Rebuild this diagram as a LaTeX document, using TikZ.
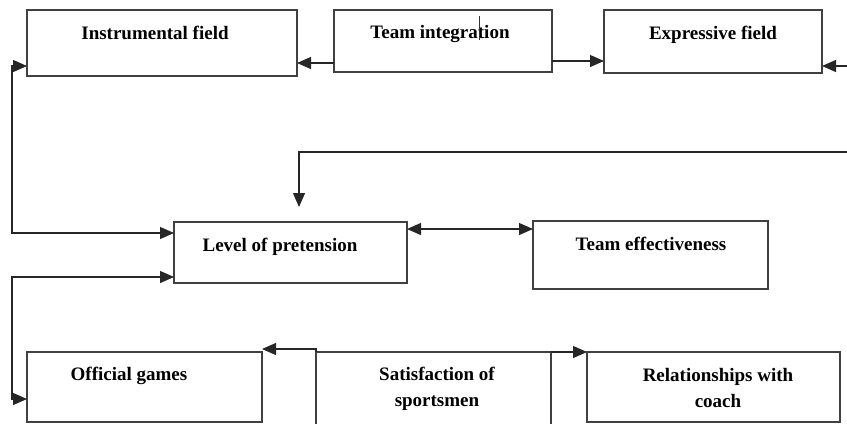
\documentclass[tikz,border=0pt]{standalone}
\usepackage{fontspec}
\setmainfont{Liberation Serif}
\usetikzlibrary{arrows.meta}
\begin{document}
\begin{tikzpicture}[x=1pt,y=-1pt,
  boxnode/.style={draw=black!75,line width=1.5pt,inner sep=0pt,outer sep=0pt,fill=none},
  lbl/.style={inner sep=0pt,font=\bfseries\fontsize{19}{26}\selectfont,align=center,anchor=base},
  tipA/.tip={Triangle[length=14pt,width=12pt]},
  conn/.style={draw=black!85,line width=1.2pt},
  arr/.style={conn,-tipA},
  darr/.style={conn,tipA-tipA}]
\useasboundingbox (0,0) rectangle (847,424);
% boxes
\node[boxnode,minimum width=270pt,minimum height=66pt] (inst) at (162,43) {};
\node[boxnode,minimum width=218pt,minimum height=62pt] (integ) at (443,41) {};
\node[boxnode,minimum width=218pt,minimum height=63pt] (expr) at (713,41.5) {};
\node[boxnode,minimum width=233pt,minimum height=61pt] (lp) at (290.5,252.5) {};
\node[boxnode,minimum width=235pt,minimum height=68pt] (te) at (650.5,255) {};
\node[boxnode,minimum width=235pt,minimum height=70pt] (off) at (144.5,387) {};
\node[inner sep=0pt,outer sep=0pt,minimum width=235pt,minimum height=72pt] (sat) at (433.5,388) {};
\draw[draw=black!75,line width=1.5pt] (sat.south west) -- (sat.north west) -- (sat.north east) -- (sat.south east);
\node[boxnode,minimum width=253pt,minimum height=70pt] (rel) at (713.5,387) {};
% labels
\node[lbl] (instT) at (155,39) {Instrumental field};
\node[lbl] (integT) at (440,38) {Team integration};
\node[lbl] (exprT) at (713,39) {Expressive field};
\node[lbl] (lpT) at (280,251) {Level of pretension};
\node[lbl] (teT) at (651,250) {Team effectiveness};
\node[lbl] (offT) at (129,380) {Official games};
\node[lbl] (satT) at (437,406) {Satisfaction of\\sportsmen};
\node[lbl] (relT) at (718,407) {Relationships with\\coach};
% stray tick mark
\coordinate (tickA) at (479,16);
\coordinate (tickB) at (479,40);
\draw[black!80,line width=0.8pt] (tickA) -- (tickB);
% free ends
\coordinate (rA) at (847,66);
\coordinate (rB) at (847,152);
\coordinate (bend) at (299,152);
\coordinate (lpTip) at (299,207);
% connectors
\draw[arr] (integ.west |- 0,63) -- (inst.east |- 0,63);
\draw[arr] (integ.east |- 0,61) -- (expr.west |- 0,61);
\draw[arr] (rA) -- (expr.east |- rA);
\draw[arr] (rB) -- (bend) -- (lpTip);
\draw[darr] (inst.west |- 0,66) -- (12,66) -- (12,233) -- (lp.west |- 0,233);
\draw[darr] (lp.west |- 0,277) -- (12,277) -- (12,399) -- (off.west |- 0,399);
\draw[darr] (lp.east |- 0,229) -- (te.west |- 0,229);
\draw[arr] (sat.north west) -- ++(0,-3) -- (off.north east |- 0,349);
\draw[arr] (sat.north east) -- (rel.north west);
\end{tikzpicture}
\end{document}
